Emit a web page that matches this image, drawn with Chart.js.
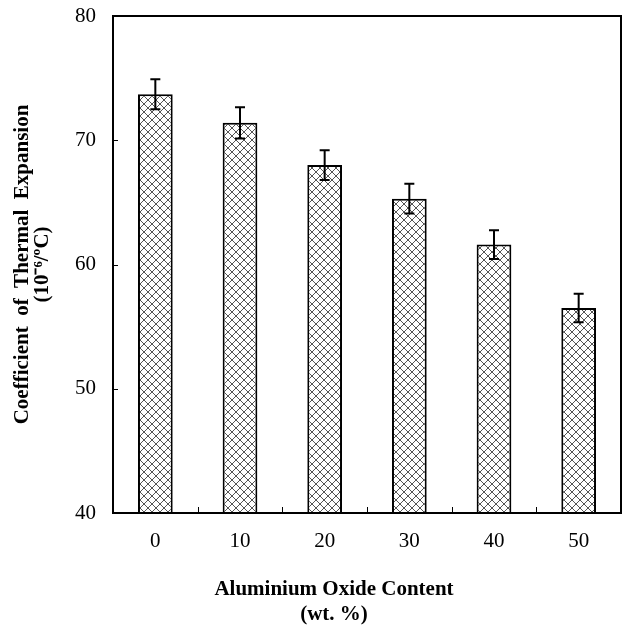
<!DOCTYPE html>
<html>
<head>
<meta charset="utf-8">
<script src="https://cdn.jsdelivr.net/npm/chart.js@4.4.1/dist/chart.umd.min.js"></script>
<style>
  html, body { margin: 0; padding: 0; background: #fff; }
  #wrap { width: 624px; height: 630px; }
</style>
</head>
<body>
<div id="wrap"><canvas id="cte"></canvas></div>
<script>
// ===== Data =====
const contents = ['0', '10', '20', '30', '40', '50'];
const cteValues = [73.7, 71.4, 68.0, 65.3, 61.6, 56.5];
const cteErrors = [1.2, 1.25, 1.2, 1.2, 1.15, 1.15];
const yTicks = [40, 50, 60, 70, 80];

const SERIF = '"Liberation Serif", "Times New Roman", serif';

// crosshatch fill like the original plot
function makeHatch() {
    const c = document.createElement('canvas');
    const s = 8;
    c.width = s; c.height = s;
    const g = c.getContext('2d');
    g.fillStyle = '#fff';
    g.fillRect(0, 0, s, s);
    g.strokeStyle = '#555';
    g.lineWidth = 1;
    g.beginPath();
    g.moveTo(0, 0); g.lineTo(s, s);
    g.moveTo(s, 0); g.lineTo(0, s);
    g.stroke();
    return g.createPattern(c, 'repeat');
}

// frame, inner ticks, error bars and x title
const decorPlugin = {
    id: 'decor',
    afterDatasetsDraw(chart) {
        const { ctx, chartArea: a, scales: { x, y } } = chart;
        ctx.save();
        ctx.strokeStyle = '#000';

        // error bars
        ctx.lineWidth = 2;
        cteValues.forEach((v, i) => {
            const px = x.getPixelForValue(i);
            const top = y.getPixelForValue(v + cteErrors[i]);
            const bot = y.getPixelForValue(v - cteErrors[i]);
            ctx.beginPath();
            ctx.moveTo(px, top); ctx.lineTo(px, bot);
            ctx.moveTo(px - 5, top); ctx.lineTo(px + 5, top);
            ctx.moveTo(px - 5, bot); ctx.lineTo(px + 5, bot);
            ctx.stroke();
        });

        // inner ticks
        ctx.lineWidth = 1;
        ctx.beginPath();
        yTicks.forEach(t => {
            const py = Math.round(y.getPixelForValue(t)) + 0.5;
            ctx.moveTo(a.left, py); ctx.lineTo(a.left + 5, py);
        });
        const step = (a.right - a.left) / contents.length;
        for (let i = 1; i < contents.length; i++) {
            const px = Math.round(a.left + i * step) + 0.5;
            ctx.moveTo(px, a.bottom); ctx.lineTo(px, a.bottom - 6);
        }
        ctx.stroke();

        // frame
        ctx.lineWidth = 2;
        ctx.strokeRect(a.left, a.top, a.right - a.left, a.bottom - a.top);

        // x axis title
        ctx.fillStyle = '#000';
        ctx.font = 'bold 21px ' + SERIF;
        ctx.textAlign = 'center';
        ctx.textBaseline = 'middle';
        ctx.fillText('Aluminium Oxide Content', 334, 590);
        ctx.fillText('(wt. %)', 334, 615);
        ctx.restore();
    }
};

const chart = new Chart(document.getElementById('cte'), {
    type: 'bar',
    data: {
        labels: contents,
        datasets: [{
            data: cteValues,
            backgroundColor: makeHatch(),
            borderColor: '#000',
            borderWidth: 2,
            borderSkipped: false,
            barPercentage: 0.82,
            categoryPercentage: 0.5
        }]
    },
    options: {
        responsive: true,
        maintainAspectRatio: false,
        animation: false,
        layout: { padding: { top: 16, right: 3, left: 0, bottom: 0 } },
        plugins: { legend: { display: false }, tooltip: { enabled: false } },
        scales: {
            x: {
                grid: { display: false, drawTicks: false },
                border: { display: false },
                ticks: { color: '#000', padding: 16, font: { family: SERIF, size: 21 } },
                afterFit(scale) {
                    scale.height = 117;
                    scale.paddingLeft = 0;
                    scale.paddingRight = 0;
                }
            },
            y: {
                min: 40,
                max: 80,
                afterBuildTicks(scale) { scale.ticks = yTicks.map(v => ({ value: v })); },
                grid: { display: false, drawTicks: false },
                border: { display: false },
                ticks: { color: '#000', padding: 17, font: { family: SERIF, size: 21 } },
                title: {
                    display: true,
                    text: ['Coefficient  of  Thermal  Expansion', '(10\u207B\u2076/\u00BAC)'],
                    color: '#000',
                    font: { family: SERIF, size: 21, weight: 'bold', lineHeight: 0.95 },
                    padding: { top: 13, bottom: 0 }
                },
                afterFit(scale) {
                    scale.width = 113;
                    scale.paddingTop = 0;
                    scale.paddingBottom = 0;
                }
            }
        }
    },
    plugins: [decorPlugin]
});
</script>
</body>
</html>
